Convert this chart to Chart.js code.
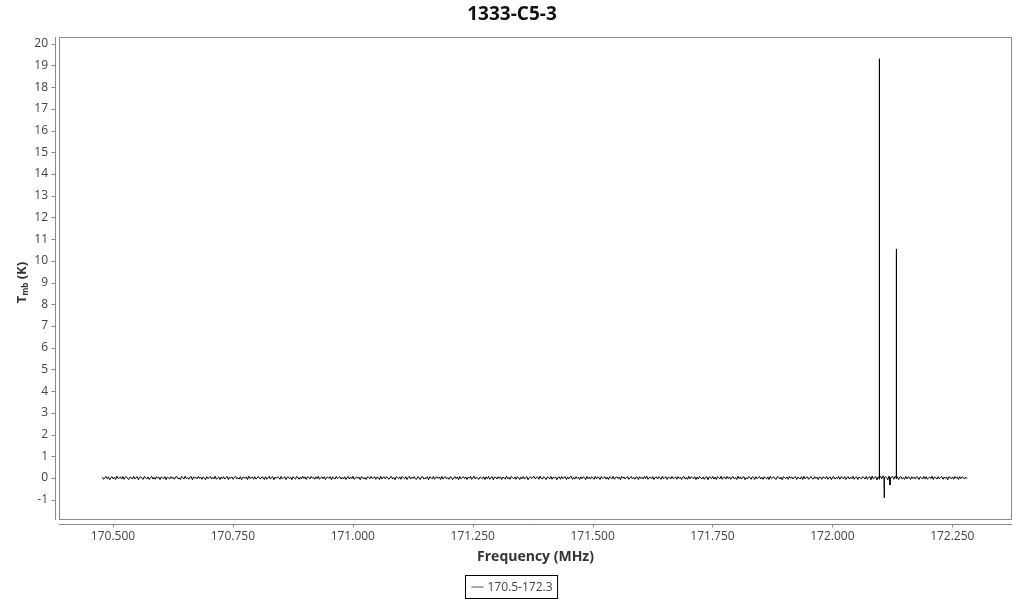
<!DOCTYPE html>
<html><head><meta charset="utf-8">
<script src="https://cdn.jsdelivr.net/npm/chart.js@4.4.1/dist/chart.umd.min.js"></script>
<style>html,body{margin:0;padding:0;background:#fff;}#wrap{width:1024px;height:600px;}</style>
</head><body><div id="wrap"><canvas id="c" width="1024" height="600"></canvas></div>
<script>
const chartTitle = '1333-C5-3';
const seriesLabel = '170.5-172.3';
const xAxisTitle = 'Frequency (MHz)';
const yAxisTitleMain = 'T';
const yAxisTitleSub = 'mb';
const yAxisTitleUnit = ' (K)';
const freqStart = 170.478;
const freqStep = 0.0025;
const tmbNoise = [
0.04,-0.06,0.02,0.07,-0.03,0.05,-0.08,0.01,0.06,-0.04,0.03,-0.07,0.08,-0.02,0.00,0.05,-0.05,0.07,-0.06,0.03,
0.06,-0.03,-0.07,0.04,0.02,-0.05,0.08,-0.04,0.01,0.06,-0.08,0.03,0.05,-0.02,-0.06,0.07,0.00,-0.04,0.05,-0.07,
0.02,0.08,-0.05,0.03,-0.06,0.06,-0.01,0.04,-0.07,0.05,0.01,-0.03,0.07,-0.08,0.04,0.02,-0.05,0.06,-0.02,0.03,
-0.06,0.05,0.07,-0.04,0.00,-0.07,0.06,0.03,-0.05,0.08,-0.03,0.02,-0.06,0.04,0.06,-0.08,0.05,-0.01,0.03,-0.04,
0.07,-0.02,0.04,-0.06,0.05,0.01,-0.08,0.06,-0.03,0.02,0.07,-0.05,0.03,-0.04,0.08,-0.06,0.00,0.05,-0.07,0.04,
-0.03,0.06,-0.05,0.02,0.07,-0.07,0.04,-0.01,0.05,-0.06,0.03,0.08,-0.04,0.01,-0.05,0.06,-0.08,0.03,0.04,-0.02,
0.05,-0.07,0.08,-0.03,0.02,0.04,-0.06,0.06,-0.05,0.00,0.07,-0.02,-0.04,0.05,0.03,-0.07,0.06,-0.06,0.01,0.08,
-0.05,0.03,0.06,-0.08,0.04,-0.02,0.05,0.02,-0.06,0.07,-0.04,0.01,0.06,-0.07,0.03,0.05,-0.03,0.04,-0.08,0.06,
0.00,-0.05,0.07,0.03,-0.06,0.04,-0.04,0.08,-0.02,0.05,-0.07,0.06,0.02,-0.05,0.07,-0.01,0.03,-0.06,0.05,-0.03,
0.08,-0.06,0.01,0.05,-0.04,0.06,-0.07,0.03,0.04,-0.02,0.06,-0.08,0.05,0.00,-0.05,0.07,-0.03,0.02,0.06,-0.05,
0.03,-0.04,0.06,-0.07,0.02,0.07,-0.05,0.04,-0.03,0.08,-0.06,0.01,0.05,-0.02,0.04,-0.08,0.06,0.03,-0.05,0.02,
-0.07,0.05,0.03,-0.04,0.07,-0.02,0.00,0.06,-0.06,0.04,0.02,-0.07,0.08,-0.05,0.03,0.05,-0.04,0.06,-0.01,-0.06,
0.04,0.07,-0.05,0.02,-0.08,0.06,0.03,-0.03,0.05,-0.06,0.07,0.01,-0.04,0.06,-0.07,0.02,0.08,-0.05,0.04,-0.02,
0.06,-0.04,-0.06,0.05,0.03,-0.07,0.04,0.07,-0.05,0.01,-0.03,0.06,-0.08,0.05,0.02,-0.04,0.07,-0.06,0.03,0.05,
-0.02,0.04,-0.07,0.08,-0.05,0.03,0.06,-0.04,0.02,-0.06,0.05,0.04,-0.07,0.00,0.06,-0.03,0.05,-0.08,0.07,-0.04,
0.02,0.06,-0.03,0.05,-0.07,0.04,-0.01,0.07,-0.06,0.03,0.08,-0.05,0.04,-0.02,-0.06,0.05,0.01,-0.04,0.06,-0.07,
0.05,-0.03,0.07,-0.06,0.02,0.06,-0.08,0.04,0.03,-0.05,0.06,-0.02,0.05,-0.07,0.04,0.00,-0.05,0.08,-0.04,0.03,
-0.06,0.07,0.01,-0.04,0.05,-0.06,0.06,0.02,-0.07,0.04,-0.03,0.07,-0.05,0.03,0.06,-0.08,0.02,0.05,-0.03,0.04,
0.07,-0.05,0.03,0.04,-0.06,0.08,-0.02,-0.05,0.06,0.01,-0.07,0.05,0.03,-0.04,0.07,-0.06,0.04,-0.01,0.05,-0.08,
0.03,0.05,-0.06,0.07,-0.03,0.02,0.06,-0.07,0.04,-0.04,0.05,0.08,-0.06,0.02,-0.05,0.06,-0.02,0.04,-0.07,0.05,
-0.04,0.06,0.02,-0.08,0.07,-0.03,0.04,-0.05,0.06,0.00,-0.06,0.07,-0.04,0.05,0.03,-0.07,0.06,-0.02,0.01,0.06,
-0.05,0.04,-0.07,0.06,0.02,-0.04,0.08,-0.06,0.03,0.05,-0.03,0.04,-0.08,0.07,-0.01,0.05,-0.05,0.03,0.06,-0.06,
0.01,0.07,-0.04,0.03,-0.06,0.05,0.04,-0.07,0.06,-0.02,0.03,-0.05,0.07,-0.03,0.08,-0.06,0.02,0.04,-0.04,0.06,
-0.07,0.03,0.05,-0.05,0.06,-0.01,-0.06,0.08,-0.04,0.02,0.06,-0.07,0.04,0.03,-0.05,0.07,-0.03,0.01,0.05,-0.06,
0.06,-0.02,0.04,-0.07,0.03,0.07,-0.05,0.02,-0.06,0.08,-0.04,0.05,0.01,-0.03,0.06,-0.07,0.04,-0.05,0.07,0.00,
-0.04,0.05,-0.06,0.03,0.06,-0.08,0.05,0.02,-0.03,0.07,-0.05,0.04,-0.07,0.06,0.01,-0.04,0.08,-0.06,0.03,0.04,
-0.05,0.07,-0.02,0.05,-0.06,0.03,0.06,-0.04,0.02,-0.07,0.08,-0.03,0.05,-0.05,0.04,0.06,-0.08,0.02,-0.04,0.07,
0.02,-0.06,0.05,0.04,-0.07,0.06,-0.03,0.01,0.07,-0.05,0.03,-0.06,0.06,0.00,-0.04,0.05,-0.07,0.08,-0.02,0.03,
0.05,-0.04,-0.06,0.07,0.03,-0.05,0.04,-0.08,0.06,0.02,-0.03,0.05,-0.06,0.07,-0.01,0.04,-0.05,0.03,0.06,-0.07,
0.04,0.01,-0.05,0.06,-0.07,0.08,-0.04,0.03,0.05,-0.06,0.02,0.07,-0.03,-0.05,0.06,-0.02,0.04,-0.07,0.05,0.02,
-0.06,0.05,0.03,-0.04,0.07,-0.06,0.01,0.05,-0.08,0.04,0.06,-0.05,0.02,-0.03,0.07,-0.06,0.05,0.03,-0.04,0.06,
-0.07,0.02,0.06,-0.05,0.04,-0.03,0.08,-0.06,0.03,0.05,-0.07,0.04,0.00,-0.04,0.06,0.02,-0.05,0.07,-0.06,0.03,
0.06,-0.08,0.09,-0.05,0.03,0.07,-0.09,0.05,-0.06,0.08,-0.04,0.10,-0.07,0.06,0.03,-0.08,0.09,-0.05,0.04,0.07,
-0.06,0.08,-0.03,0.05,-0.07,0.04,0.06,-0.05,0.02,-0.06,0.07,-0.04,0.05,0.03,-0.07,0.06,-0.02,0.04,-0.05,0.06,
0.03,-0.07,0.05,0.02,-0.05,0.07,-0.04,0.06,-0.06,0.01,0.05,-0.03,0.08,-0.07,0.04,0.02,-0.05,0.06,-0.04,0.03,
0.07,-0.06,0.04,-0.02,0.05,-0.08,0.06,0.03,-0.04,0.05,-0.06,0.07,-0.01,0.04,-0.07,0.06,-0.03,0.05,0.02,-0.05,
0.04,-0.03
];
const lineFreqs = [172.0972,172.0978,172.0984, 172.1077,172.1082,172.1087, 172.1195,172.1200,172.1205, 172.1326,172.1332,172.1338];
const lineTmb   = [0.04,19.31,0.02, 0.03,-0.92,0.00, 0.02,-0.32,0.01, 0.05,10.55,0.03];
const xRange = [170.3874, 172.3745];
const yRange = [-1.935, 20.31];
const xTickStep = 0.25;
const yTickStep = 1;

const points = tmbNoise.map((v, i) => ({x: freqStart + i * freqStep, y: v}))
  .concat(lineFreqs.map((f, i) => ({x: f, y: lineTmb[i]})))
  .sort((a, b) => a.x - b.x);

Chart.defaults.font.family = "'Open Sans', 'Noto Sans', sans-serif";
Chart.defaults.color = '#444';

const framePlugin = {
  id: 'frame',
  afterDraw(chart) {
    const ctx = chart.ctx, a = chart.chartArea;
    ctx.save();
    // title
    ctx.fillStyle = '#111';
    ctx.font = "bold 19px 'Open Sans', sans-serif";
    ctx.textAlign = 'center'; ctx.textBaseline = 'middle';
    ctx.fillText(chartTitle, chart.width / 2, 15);
    ctx.strokeStyle = '#8a8a8a';
    ctx.lineWidth = 1;
    ctx.strokeRect(a.left + 0.5, a.top + 0.5, a.right - a.left - 1, a.bottom - a.top - 1);
    const ys = chart.scales.y, xs = chart.scales.x;
    const yx = a.left - 4 + 0.5;
    ctx.beginPath();
    ctx.moveTo(yx, a.top); ctx.lineTo(yx, a.bottom);
    ys.ticks.forEach(t => {
      const py = Math.round(ys.getPixelForValue(t.value)) + 0.5;
      ctx.moveTo(yx - 4, py); ctx.lineTo(yx, py);
    });
    const xy = a.bottom + 4 + 0.5;
    ctx.moveTo(a.left, xy); ctx.lineTo(a.right, xy);
    xs.ticks.forEach(t => {
      const px = Math.round(xs.getPixelForValue(t.value)) + 0.5;
      ctx.moveTo(px, xy); ctx.lineTo(px, xy + 3);
    });
    ctx.stroke();
    // y axis title with subscript
    ctx.fillStyle = '#333';
    ctx.translate(22, (a.top + a.bottom) / 2 + 4);
    ctx.rotate(-Math.PI / 2);
    const fMain = "bold 13px 'Open Sans', sans-serif";
    const fSub = "bold 8px 'Open Sans', sans-serif";
    ctx.font = fMain; const w1 = ctx.measureText(yAxisTitleMain).width;
    const w3 = ctx.measureText(yAxisTitleUnit).width;
    ctx.font = fSub; const w2 = ctx.measureText(yAxisTitleSub).width;
    let x0 = -(w1 + w2 + w3) / 2;
    ctx.textBaseline = 'middle';
    ctx.textAlign = 'left';
    ctx.font = fMain; ctx.fillText(yAxisTitleMain, x0, 0);
    ctx.font = fSub; ctx.fillText(yAxisTitleSub, x0 + w1, 4);
    ctx.font = fMain; ctx.fillText(yAxisTitleUnit, x0 + w1 + w2, 0);
    ctx.restore();
    // legend
    ctx.save();
    ctx.font = "12px 'Open Sans', sans-serif";
    const tw = ctx.measureText(seriesLabel).width;
    const total = 6 + 12 + 4 + tw + 5;
    const lx = Math.round(511.5 - total / 2) + 0.5, ly = 575.5, lh = 23;
    ctx.strokeStyle = '#000'; ctx.lineWidth = 1;
    ctx.strokeRect(lx, ly, total, lh);
    ctx.strokeStyle = '#555';
    ctx.beginPath(); ctx.moveTo(lx + 6, ly + 11.5); ctx.lineTo(lx + 18, ly + 11.5); ctx.stroke();
    ctx.fillStyle = '#444'; ctx.textBaseline = 'middle'; ctx.textAlign = 'left';
    ctx.fillText(seriesLabel, lx + 22, ly + 12);
    ctx.restore();
  }
};

new Chart(document.getElementById('c'), {
  type: 'line',
  data: { datasets: [{ label: seriesLabel, data: points, borderColor: '#000', borderWidth: 1, pointRadius: 0, fill: false, tension: 0 }] },
  options: {
    responsive: false, animation: false, devicePixelRatio: 1,
    layout: { padding: { left: 0, right: 12, top: 37, bottom: 32 } },
    plugins: {
      legend: { display: false },
      tooltip: { enabled: false },
      title: { display: false }
    },
    scales: {
      x: {
        type: 'linear', min: xRange[0], max: xRange[1],
        grid: { display: false, drawTicks: false }, border: { display: false },
        ticks: { stepSize: xTickStep, includeBounds: false, padding: 9, font: { size: 12 }, color: '#444', maxRotation: 0, autoSkip: false,
          callback: v => Number(v).toFixed(3) },
        title: { display: true, text: xAxisTitle, color: '#333', font: { size: 14, weight: 'bold' }, padding: { top: 4, bottom: 2.6 } },
        afterFit(s) { s.height = 48; }
      },
      y: {
        type: 'linear', min: yRange[0], max: yRange[1],
        grid: { display: false, drawTicks: false }, border: { display: false },
        ticks: { stepSize: yTickStep, includeBounds: false, padding: 11, font: { size: 12 }, color: '#444', autoSkip: false,
          callback: v => String(Math.round(v)) },
        afterFit(s) { s.width = 59; }
      }
    }
  },
  plugins: [framePlugin]
});
</script></body></html>
